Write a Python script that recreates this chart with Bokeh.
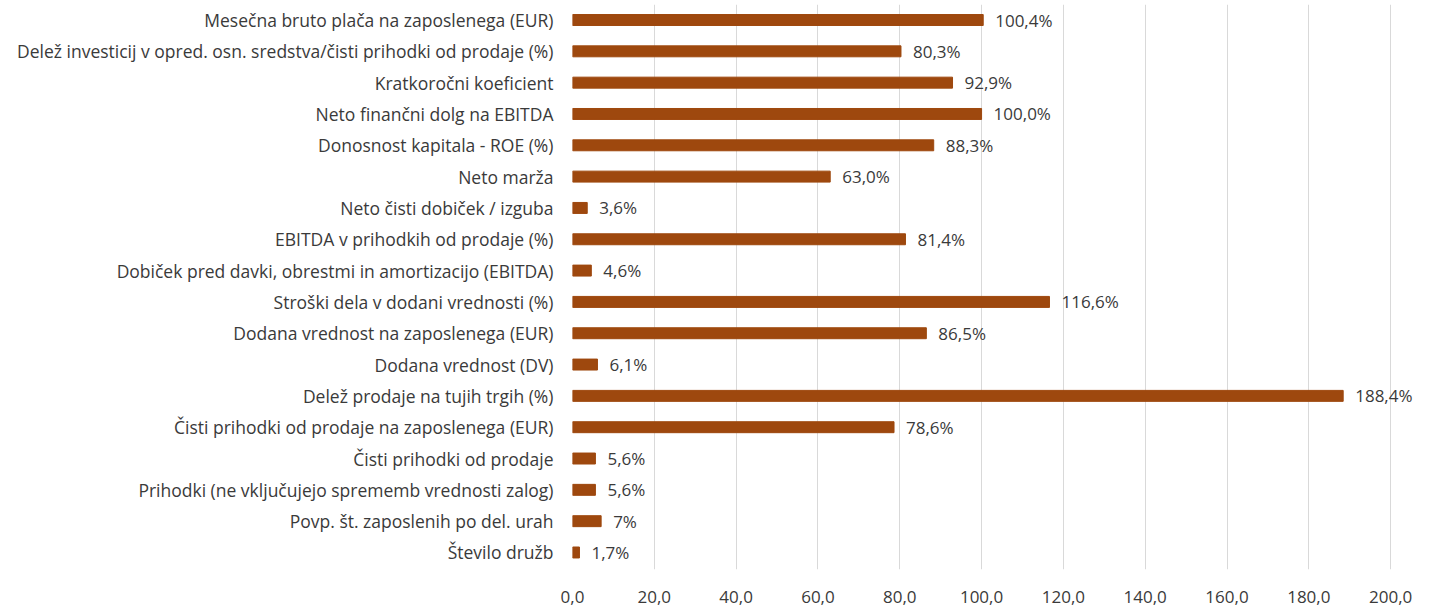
from bokeh.plotting import figure
from bokeh.models import Range1d, FixedTicker, ColumnDataSource
from bokeh.embed import file_html
from bokeh.resources import INLINE
from bokeh.core.properties import value

categories = [
    "Mesečna bruto plača na zaposlenega (EUR)",
    "Delež investicij v opred. osn. sredstva/čisti prihodki od prodaje (%)",
    "Kratkoročni koeficient",
    "Neto finančni dolg na EBITDA",
    "Donosnost kapitala - ROE (%)",
    "Neto marža",
    "Neto čisti dobiček / izguba",
    "EBITDA v prihodkih od prodaje (%)",
    "Dobiček pred davki, obrestmi in amortizacijo (EBITDA)",
    "Stroški dela v dodani vrednosti (%)",
    "Dodana vrednost na zaposlenega (EUR)",
    "Dodana vrednost (DV)",
    "Delež prodaje na tujih trgih (%)",
    "Čisti prihodki od prodaje na zaposlenega (EUR)",
    "Čisti prihodki od prodaje",
    "Prihodki (ne vključujejo sprememb vrednosti zalog)",
    "Povp. št. zaposlenih po del. urah",
    "Število družb",
]
values = [100.4, 80.3, 92.9, 100.0, 88.3, 63.0, 3.6, 81.4, 4.6, 116.6,
          86.5, 6.1, 188.4, 78.6, 5.6, 5.6, 7.0, 1.7]
value_labels = ["100,4%", "80,3%", "92,9%", "100,0%", "88,3%", "63,0%", "3,6%",
                "81,4%", "4,6%", "116,6%", "86,5%", "6,1%", "188,4%", "78,6%",
                "5,6%", "5,6%", "7%", "1,7%"]
x_ticks = [0, 20, 40, 60, 80, 100, 120, 140, 160, 180, 200]
x_tick_labels = ["0,0", "20,0", "40,0", "60,0", "80,0", "100,0", "120,0",
                 "140,0", "160,0", "180,0", "200,0"]

FONT = "Open Sans"
TEXT_COLOR = "#3a3a3a"

idx = list(range(len(categories)))
src = ColumnDataSource(dict(y=idx, v=values, lab=value_labels))

p = figure(width=1432, height=607, output_backend="svg", toolbar_location=None,
           x_range=Range1d(0, 209.5), y_range=Range1d(17.543, -0.495),
           min_border_left=572, min_border_right=3, min_border_top=4,
           min_border_bottom=38)

p.hbar(y="y", left=0, right="v", height=0.35, fill_color="#9E480E",
       line_color="#9E480E", source=src)
p.text(x="v", y="y", text="lab", x_offset=12, text_align="left",
       text_baseline="middle", text_font=value(FONT), text_font_size="17px",
       text_color=TEXT_COLOR, source=src)

p.outline_line_color = None
p.ygrid.grid_line_color = None
p.xgrid.ticker = FixedTicker(ticks=x_ticks)
p.xgrid.grid_line_color = "#D9D9D9"
p.xgrid.grid_line_width = 1

p.xaxis.ticker = FixedTicker(ticks=x_ticks)
p.xaxis.major_label_overrides = {t: l for t, l in zip(x_ticks, x_tick_labels)}
p.xaxis.axis_line_color = None
p.xaxis.major_tick_line_color = None
p.xaxis.minor_tick_line_color = None
p.xaxis.major_label_standoff = 15
p.xaxis.major_label_text_font = FONT
p.xaxis.major_label_text_font_size = "17px"
p.xaxis.major_label_text_color = TEXT_COLOR

p.yaxis.ticker = FixedTicker(ticks=idx)
p.yaxis.major_label_overrides = {i: c for i, c in enumerate(categories)}
p.yaxis.axis_line_color = None
p.yaxis.major_tick_line_color = None
p.yaxis.minor_tick_line_color = None
p.yaxis.major_label_standoff = 13
p.yaxis.major_label_text_font = FONT
p.yaxis.major_label_text_font_size = "17.5px"
p.yaxis.major_label_text_color = TEXT_COLOR

open("out.html", "w").write(file_html(p, INLINE))
